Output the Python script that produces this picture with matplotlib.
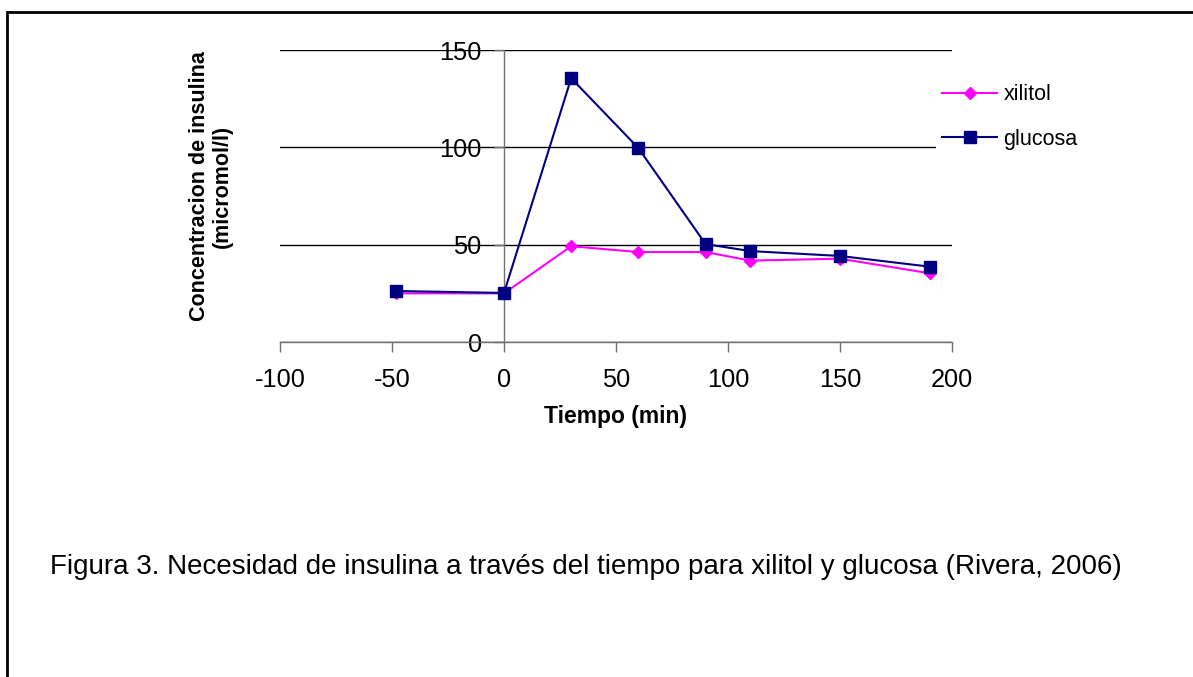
import matplotlib.pyplot as plt
from matplotlib.patches import Rectangle
from matplotlib.ticker import FuncFormatter

plt.rcParams['font.family'] = ['Liberation Sans', 'DejaVu Sans']

# data
tiempo = [-48, 0, 30, 60, 90, 110, 150, 190]
xilitol = [25, 25, 49.2, 46.2, 46.2, 41.8, 42.8, 35.3]
glucosa = [26.2, 25.2, 135.5, 99.6, 50.3, 46.7, 44.2, 38.7]
x_ticks = [-100, -50, 0, 50, 100, 150, 200]
y_ticks = [0, 50, 100, 150]

W, H = 1193, 677
fig = plt.figure(figsize=(W / 100, H / 100), dpi=100)
ax = fig.add_axes([280 / W, 1 - 342 / H, (952 - 280) / W, (342 - 50) / H])

ax.plot(tiempo, xilitol, color='#FF00FF', lw=1.5, marker='D', ms=6.5,
        label='xilitol', zorder=3, clip_on=False)
ax.plot(tiempo, glucosa, color='#000080', lw=1.5, marker='s', ms=8,
        label='glucosa', zorder=4, clip_on=False)

ax.set_xlim(-100, 200)
ax.set_ylim(0, 150)
ax.set_xticks(x_ticks)
ax.set_yticks(y_ticks)
# plain hyphen for negatives, like the original
ax.xaxis.set_major_formatter(FuncFormatter(lambda v, p: '%d' % v))
ax.yaxis.set_major_formatter(FuncFormatter(lambda v, p: '%d' % v))

# Excel-like axes: y axis sits at x = 0, no box
ax.spines['left'].set_position(('data', 0))
ax.spines['right'].set_visible(False)
ax.spines['top'].set_visible(False)
for s in ('left', 'bottom'):
    ax.spines[s].set_color('#707070')
    ax.spines[s].set_linewidth(1.0)
ax.tick_params(axis='both', direction='out', length=7, width=1,
               color='#707070', labelsize=18.3)
ax.tick_params(axis='y', pad=9)
ax.tick_params(axis='x', pad=12)
ax.yaxis.grid(True, color='black', lw=1.0)
ax.set_axisbelow(True)

leg = ax.legend(loc='upper left', bbox_to_anchor=(936 / W, 1 - 78 / H),
                bbox_transform=fig.transFigure, fontsize=15.5,
                frameon=True, fancybox=False, borderpad=0.3, borderaxespad=0,
                handlelength=2.55, handletextpad=0.28, labelspacing=1.08)
leg.get_frame().set_edgecolor('none')
leg.get_frame().set_facecolor('white')
leg.get_frame().set_alpha(1)

fig.text(616 / W, 1 - 416 / H, 'Tiempo (min)', ha='center', va='center',
         fontsize=16.5, fontweight='bold')
fig.text(211 / W, 1 - 186 / H, 'Concentracion de insulina\n(micromol/l)',
         ha='center', va='center', rotation=90, fontsize=15.5,
         fontweight='bold', multialignment='center', linespacing=1.15)

fig.text(50 / W, 1 - 574 / H,
         'Figura 3. Necesidad de insulina a través del tiempo para xilitol y glucosa (Rivera, 2006)',
         ha='left', va='baseline', fontsize=20)

# page frame, clipped at the right and bottom edges
fig.patches.append(Rectangle((7 / W, -0.1), 1.2, 1.1 - 12 / H,
                             transform=fig.transFigure, fill=False,
                             edgecolor='black', lw=2))

fig.savefig('out.png', dpi=100)
